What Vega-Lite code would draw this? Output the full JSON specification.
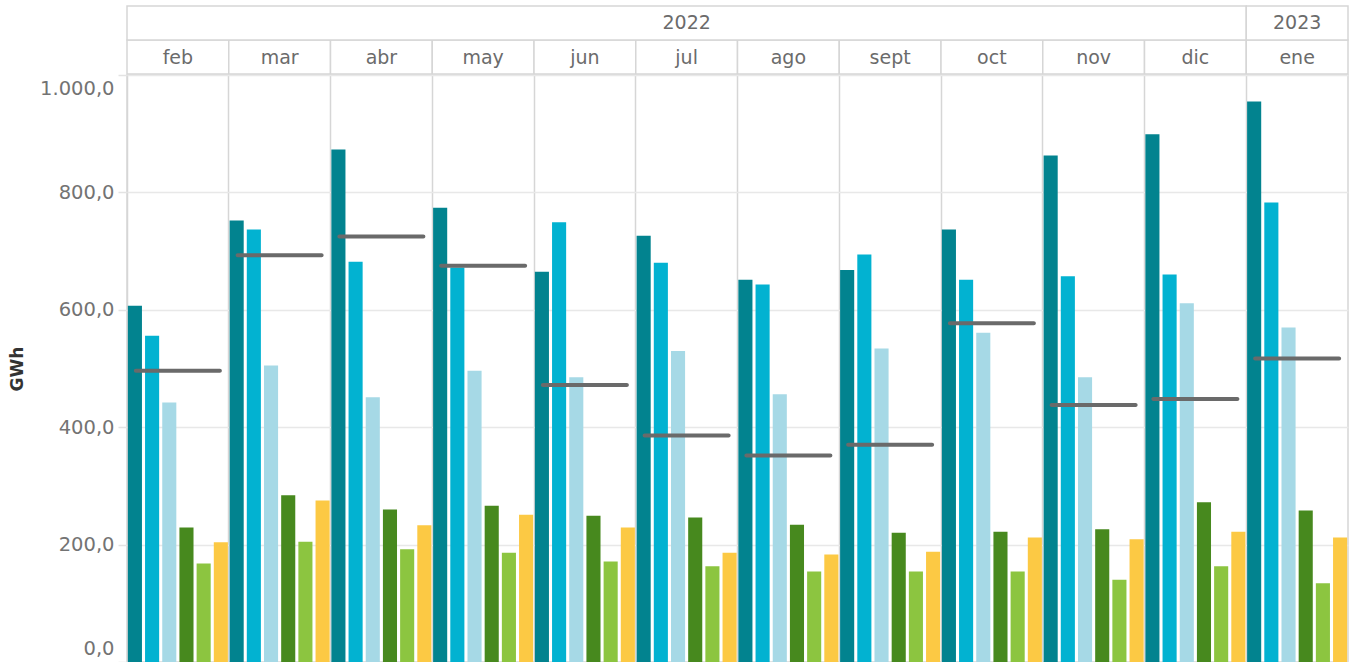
{
  "$schema": "https://vega.github.io/schema/vega-lite/v6.json",
  "background": "white",
  "padding": {"left": 7, "top": 5, "right": 0, "bottom": 0},
  "config": {
    "locale": {"number": {"decimal": ",", "thousands": ".", "grouping": [3], "currency": ["", " €"]}},
    "font": "DejaVu Sans"
  },
  "datasets": {
    "meses": [
      {"fila": "mes", "mes": "feb"}, {"fila": "mes", "mes": "mar"}, {"fila": "mes", "mes": "abr"},
      {"fila": "mes", "mes": "may"}, {"fila": "mes", "mes": "jun"}, {"fila": "mes", "mes": "jul"},
      {"fila": "mes", "mes": "ago"}, {"fila": "mes", "mes": "sept"}, {"fila": "mes", "mes": "oct"},
      {"fila": "mes", "mes": "nov"}, {"fila": "mes", "mes": "dic"}, {"fila": "mes", "mes": "ene"}
    ],
    "anios": [
      {"fila": "año", "desde": "feb", "hasta": "dic", "centro": "jul", "anio": "2022"},
      {"fila": "año", "desde": "ene", "hasta": "ene", "centro": "ene", "anio": "2023"}
    ],
    "energia": [
      {"mes": "feb", "serie": "S1", "gwh": 607}, {"mes": "feb", "serie": "S2", "gwh": 556}, {"mes": "feb", "serie": "S3", "gwh": 442},
      {"mes": "feb", "serie": "S4", "gwh": 229}, {"mes": "feb", "serie": "S5", "gwh": 168}, {"mes": "feb", "serie": "S6", "gwh": 204},
      {"mes": "mar", "serie": "S1", "gwh": 752}, {"mes": "mar", "serie": "S2", "gwh": 737}, {"mes": "mar", "serie": "S3", "gwh": 505},
      {"mes": "mar", "serie": "S4", "gwh": 284}, {"mes": "mar", "serie": "S5", "gwh": 205}, {"mes": "mar", "serie": "S6", "gwh": 275},
      {"mes": "abr", "serie": "S1", "gwh": 873}, {"mes": "abr", "serie": "S2", "gwh": 682}, {"mes": "abr", "serie": "S3", "gwh": 451},
      {"mes": "abr", "serie": "S4", "gwh": 260}, {"mes": "abr", "serie": "S5", "gwh": 192}, {"mes": "abr", "serie": "S6", "gwh": 233},
      {"mes": "may", "serie": "S1", "gwh": 774}, {"mes": "may", "serie": "S2", "gwh": 672}, {"mes": "may", "serie": "S3", "gwh": 496},
      {"mes": "may", "serie": "S4", "gwh": 266}, {"mes": "may", "serie": "S5", "gwh": 186}, {"mes": "may", "serie": "S6", "gwh": 251},
      {"mes": "jun", "serie": "S1", "gwh": 665}, {"mes": "jun", "serie": "S2", "gwh": 749}, {"mes": "jun", "serie": "S3", "gwh": 485},
      {"mes": "jun", "serie": "S4", "gwh": 249}, {"mes": "jun", "serie": "S5", "gwh": 171}, {"mes": "jun", "serie": "S6", "gwh": 229},
      {"mes": "jul", "serie": "S1", "gwh": 726}, {"mes": "jul", "serie": "S2", "gwh": 680}, {"mes": "jul", "serie": "S3", "gwh": 530},
      {"mes": "jul", "serie": "S4", "gwh": 246}, {"mes": "jul", "serie": "S5", "gwh": 163}, {"mes": "jul", "serie": "S6", "gwh": 186},
      {"mes": "ago", "serie": "S1", "gwh": 651}, {"mes": "ago", "serie": "S2", "gwh": 643}, {"mes": "ago", "serie": "S3", "gwh": 456},
      {"mes": "ago", "serie": "S4", "gwh": 234}, {"mes": "ago", "serie": "S5", "gwh": 154}, {"mes": "ago", "serie": "S6", "gwh": 183},
      {"mes": "sept", "serie": "S1", "gwh": 668}, {"mes": "sept", "serie": "S2", "gwh": 694}, {"mes": "sept", "serie": "S3", "gwh": 534},
      {"mes": "sept", "serie": "S4", "gwh": 220}, {"mes": "sept", "serie": "S5", "gwh": 154}, {"mes": "sept", "serie": "S6", "gwh": 188},
      {"mes": "oct", "serie": "S1", "gwh": 737}, {"mes": "oct", "serie": "S2", "gwh": 651}, {"mes": "oct", "serie": "S3", "gwh": 561},
      {"mes": "oct", "serie": "S4", "gwh": 222}, {"mes": "oct", "serie": "S5", "gwh": 154}, {"mes": "oct", "serie": "S6", "gwh": 212},
      {"mes": "nov", "serie": "S1", "gwh": 863}, {"mes": "nov", "serie": "S2", "gwh": 657}, {"mes": "nov", "serie": "S3", "gwh": 485},
      {"mes": "nov", "serie": "S4", "gwh": 226}, {"mes": "nov", "serie": "S5", "gwh": 140}, {"mes": "nov", "serie": "S6", "gwh": 209},
      {"mes": "dic", "serie": "S1", "gwh": 899}, {"mes": "dic", "serie": "S2", "gwh": 660}, {"mes": "dic", "serie": "S3", "gwh": 611},
      {"mes": "dic", "serie": "S4", "gwh": 272}, {"mes": "dic", "serie": "S5", "gwh": 163}, {"mes": "dic", "serie": "S6", "gwh": 222},
      {"mes": "ene", "serie": "S1", "gwh": 955}, {"mes": "ene", "serie": "S2", "gwh": 783}, {"mes": "ene", "serie": "S3", "gwh": 570},
      {"mes": "ene", "serie": "S4", "gwh": 258}, {"mes": "ene", "serie": "S5", "gwh": 134}, {"mes": "ene", "serie": "S6", "gwh": 212}
    ],
    "referencia": [
      {"mes": "feb", "gwh": 496}, {"mes": "mar", "gwh": 693}, {"mes": "abr", "gwh": 725}, {"mes": "may", "gwh": 675},
      {"mes": "jun", "gwh": 472}, {"mes": "jul", "gwh": 386}, {"mes": "ago", "gwh": 352}, {"mes": "sept", "gwh": 370},
      {"mes": "oct", "gwh": 577}, {"mes": "nov", "gwh": 438}, {"mes": "dic", "gwh": 448}, {"mes": "ene", "gwh": 517}
    ]
  },
  "vconcat": [
    {
      "width": 1221,
      "height": 68,
      "view": {"stroke": null},
      "layer": [
        {
          "data": {"name": "meses"},
          "mark": {"type": "rect", "fill": "white", "stroke": "#d6d6d6", "strokeWidth": 1.5},
          "encoding": {
            "x": {"field": "mes", "type": "nominal", "axis": null,
                  "scale": {"domain": ["feb","mar","abr","may","jun","jul","ago","sept","oct","nov","dic","ene"], "paddingInner": 0, "paddingOuter": 0}},
            "y": {"field": "fila", "type": "nominal", "axis": null,
                  "scale": {"domain": ["año", "mes"], "paddingInner": 0, "paddingOuter": 0}}
          }
        },
        {
          "data": {"name": "anios"},
          "mark": {"type": "rect", "fill": "white", "stroke": "#d6d6d6", "strokeWidth": 1.5},
          "encoding": {
            "x": {"field": "desde", "type": "nominal", "bandPosition": 0},
            "x2": {"field": "hasta", "bandPosition": 1},
            "y": {"field": "fila", "type": "nominal"}
          }
        },
        {
          "data": {"name": "meses"},
          "mark": {"type": "text", "font": "DejaVu Sans", "fontSize": 19, "color": "#6b6b6b", "baseline": "middle", "align": "center", "dy": 1},
          "encoding": {
            "x": {"field": "mes", "type": "nominal"},
            "y": {"field": "fila", "type": "nominal"},
            "text": {"field": "mes"}
          }
        },
        {
          "data": {"name": "anios"},
          "mark": {"type": "text", "font": "DejaVu Sans", "fontSize": 19, "color": "#6b6b6b", "baseline": "middle", "align": "center"},
          "encoding": {
            "x": {"field": "centro", "type": "nominal"},
            "y": {"field": "fila", "type": "nominal"},
            "text": {"field": "anio"}
          }
        }
      ]
    },
    {
      "width": 1221,
      "height": 587,
      "view": {"stroke": "#d6d6d6", "strokeWidth": 1.5},
      "layer": [
        {
          "data": {"name": "energia"},
          "mark": {"type": "bar"},
          "encoding": {
            "x": {"field": "mes", "type": "nominal",
                  "scale": {"domain": ["feb","mar","abr","may","jun","jul","ago","sept","oct","nov","dic","ene"], "paddingInner": 0, "paddingOuter": 0},
                  "axis": {"orient": "bottom", "labels": false, "ticks": false, "domain": false, "title": null,
                           "grid": true, "gridColor": "#d6d6d6", "gridWidth": 1.5, "bandPosition": 0}},
            "xOffset": {"field": "serie", "type": "nominal",
                        "scale": {"domain": ["S1","S2","S3","S4","S5","S6"], "paddingInner": 0.18, "paddingOuter": 0.05}},
            "y": {"field": "gwh", "type": "quantitative",
                  "scale": {"domain": [0, 1000], "nice": false},
                  "axis": {"values": [0, 200, 400, 600, 800, 1000], "format": ",.1f",
                           "grid": true, "gridColor": "#e8e8e8", "gridWidth": 1.5,
                           "domain": false, "tickColor": "#e3e3e3", "tickSize": 9, "tickWidth": 1.5,
                           "labelPadding": 4, "labelFlush": true, "labelFlushOffset": -4,
                           "labelFont": "DejaVu Sans", "labelFontSize": 19.5, "labelColor": "#737373",
                           "title": "GWh", "titleFont": "DejaVu Sans", "titleFontSize": 17, "titleFontWeight": "bold",
                           "titleColor": "#333333", "titlePadding": 13}},
            "color": {"field": "serie", "type": "nominal", "legend": null,
                      "scale": {"domain": ["S1","S2","S3","S4","S5","S6"],
                                "range": ["#02838F", "#02B2D1", "#A6D9E6", "#47891E", "#8CC540", "#FCC944"]}}
          }
        },
        {
          "data": {"name": "referencia"},
          "mark": {"type": "tick", "size": 88, "thickness": 4, "cornerRadius": 2, "color": "#6a6a6a", "opacity": 1},
          "encoding": {
            "x": {"field": "mes", "type": "nominal"},
            "y": {"field": "gwh", "type": "quantitative"}
          }
        }
      ]
    }
  ],
  "spacing": -4
}
